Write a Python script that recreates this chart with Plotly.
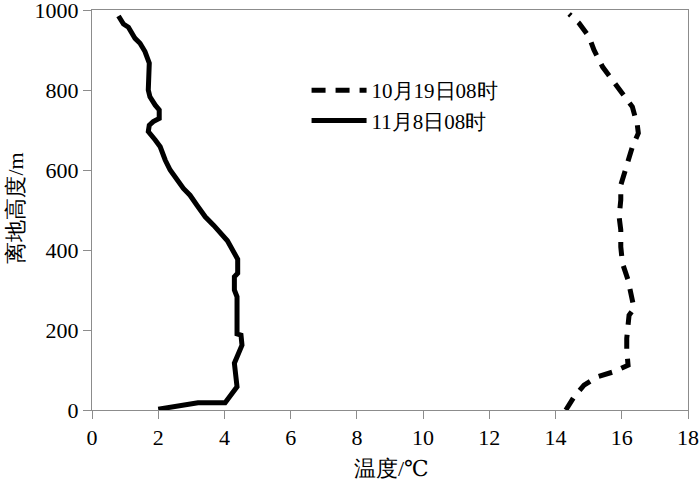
import plotly.graph_objects as go

# 11月8日08时 (solid)
nov_temp = [2.0, 3.2, 4.02, 4.38, 4.3, 4.53, 4.5, 4.38, 4.38, 4.3, 4.3, 4.4, 4.4, 4.33, 4.09, 3.67,
            3.42, 3.17, 2.96, 2.76, 2.56, 2.36, 2.21, 2.06, 1.91, 1.70, 1.73, 1.85, 2.03, 2.03,
            1.91, 1.75, 1.70, 1.73, 1.60, 1.45, 1.30, 1.20, 1.10, 0.95, 0.80]
nov_h = [2, 18, 18, 58, 117, 162, 187, 190, 283, 300, 333, 342, 377, 387, 423, 462,
         483, 512, 537, 554, 579, 600, 625, 658, 675, 696, 712, 721, 729, 750,
         762, 783, 800, 867, 896, 917, 929, 942, 957, 965, 985]

# 10月19日08时 (dashed)
oct_temp = [14.31, 14.56, 14.86, 15.27, 15.77, 16.19, 16.15, 16.15, 16.22, 16.37, 16.19, 16.02,
            15.97, 15.97, 15.92, 15.97, 15.97, 16.12, 16.32, 16.5, 16.47, 16.32, 16.07, 15.67,
            15.42, 15.16, 15.01, 14.71, 14.41]
oct_h = [0, 33, 62, 83, 96, 112, 150, 179, 237, 254, 325, 367,
         408, 450, 483, 525, 562, 608, 658, 692, 712, 758, 787, 829,
         858, 900, 933, 967, 990]

x_ticks = [0, 2, 4, 6, 8, 10, 12, 14, 16, 18]
y_ticks = [0, 200, 400, 600, 800, 1000]

FONT = '"Liberation Serif", "Times New Roman", "DejaVu Serif", serif'

fig = go.Figure()
fig.add_trace(go.Scatter(x=oct_temp, y=oct_h, mode="lines", name="10月19日08时",
                         line=dict(color="black", width=5, dash="14px,10px")))
fig.add_trace(go.Scatter(x=nov_temp, y=nov_h, mode="lines", name="11月8日08时",
                         line=dict(color="black", width=5)))

axis_common = dict(showgrid=False, zeroline=False, showline=True, linecolor="#8c8c8c",
                   linewidth=1, mirror=True, ticks="outside", ticklen=8, tickcolor="#8c8c8c",
                   ticklabeloverflow="allow", automargin=False,
                   tickfont=dict(family=FONT, size=22, color="black"))

fig.update_xaxes(range=[0, 18], tickvals=x_ticks, **axis_common)
fig.update_yaxes(range=[0, 1000], tickvals=y_ticks, **axis_common)

fig.update_layout(
    width=700, height=484,
    margin=dict(l=92, r=12, t=10, b=74, autoexpand=False),
    plot_bgcolor="white", paper_bgcolor="white",
    font=dict(family=FONT, size=21, color="black"),
    legend=dict(x=0.36, y=0.85, xanchor="left", yanchor="top",
                bgcolor="rgba(0,0,0,0)", font=dict(family=FONT, size=21),
                itemwidth=55, tracegroupgap=0),
    annotations=[
        dict(text="温度/℃", xref="paper", yref="paper", x=0.503, y=-0.145,
             xanchor="center", yanchor="middle", showarrow=False,
             font=dict(family=FONT, size=22)),
        dict(text="离地高度/m", xref="paper", yref="paper", x=-0.13, y=0.505,
             xanchor="center", yanchor="middle", showarrow=False, textangle=-90,
             font=dict(family=FONT, size=22)),
    ],
)

post = "document.body.style.margin='0';document.body.style.overflow='hidden';"

fig.write_html("out.html", config={"displayModeBar": False}, post_script=post)
